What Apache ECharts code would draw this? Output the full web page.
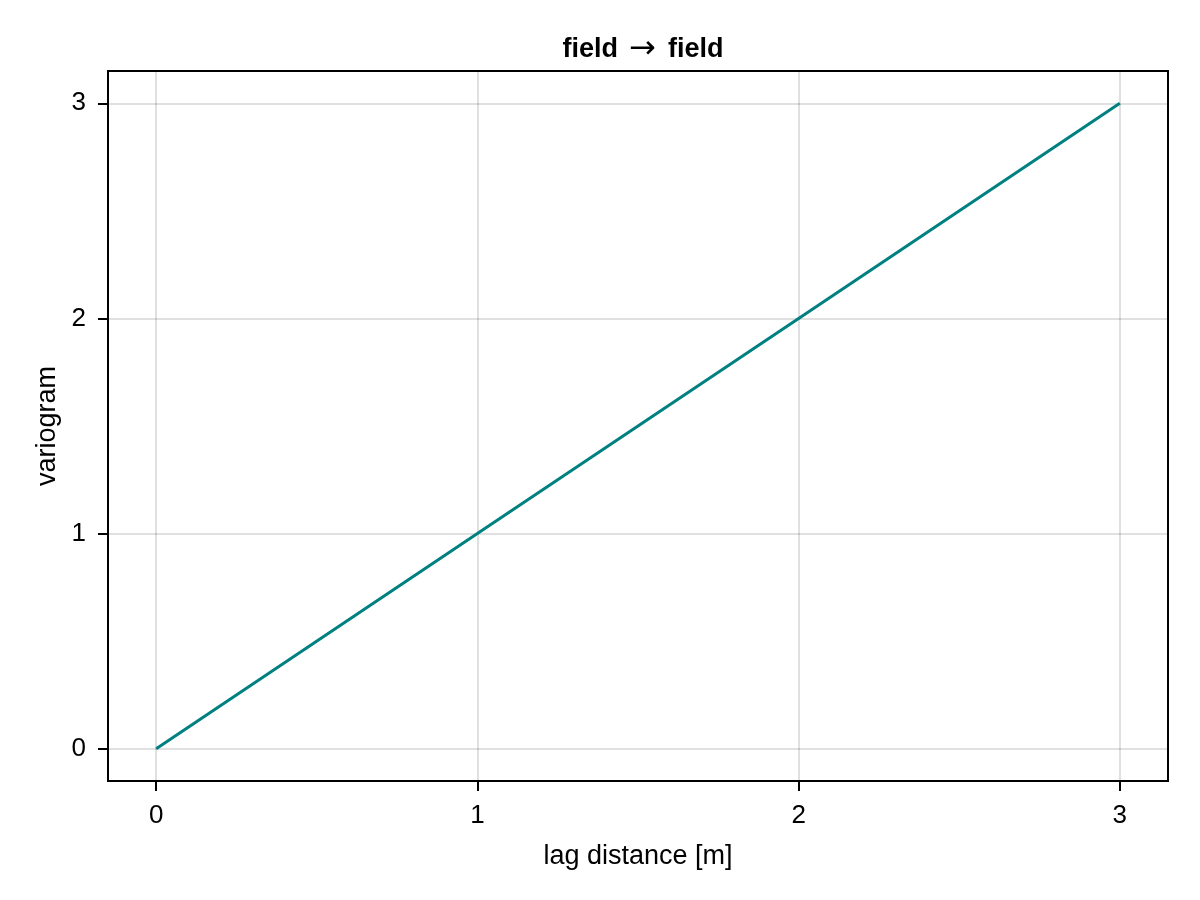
<!DOCTYPE html>
<html>
<head>
<meta charset="utf-8">
<script src="https://cdn.jsdelivr.net/npm/echarts@6/dist/echarts.min.js"></script>
<style>html,body{margin:0;padding:0;background:#fff}#c{width:1200px;height:900px}</style>
</head>
<body>
<div id="c"></div>
<script>
const titleParts = ['field', '\u2192', 'field'];
const xLabel = 'lag distance [m]';
const yLabel = 'variogram';
const lags = [0, 1, 2, 3];
const variogram = [0, 1, 2, 3];
const xTicks = [0, 1, 2, 3];
const yTicks = [0, 1, 2, 3];

const font = '"Liberation Sans", Arial, Helvetica, sans-serif';
const chart = echarts.init(document.getElementById('c'), null, {renderer: 'canvas'});
chart.setOption({
  backgroundColor: '#ffffff',
  animation: false,
  title: {
    text: '{a|' + titleParts[0] + '}{b|' + titleParts[1] + '}{a|' + titleParts[2] + '}',
    left: 638, top: 29, textAlign: 'center',
    textStyle: {
      fontFamily: font, fontWeight: 'bold', fontSize: 27, color: '#000',
      rich: {
        a: {fontFamily: font, fontWeight: 'bold', fontSize: 27, color: '#000'},
        b: {fontFamily: '"DejaVu Sans", sans-serif', fontWeight: 'normal', fontSize: 32, color: '#000', padding: [0, 12, 0, 11]}
      }
    }
  },
  grid: {left: 108, right: 32, top: 71, bottom: 119, show: true, borderColor: '#000', borderWidth: 2, backgroundColor: 'transparent'},
  xAxis: {
    type: 'value', min: -0.15, max: 3.15,
    name: xLabel, nameLocation: 'middle', nameGap: 62,
    nameTextStyle: {fontFamily: font, fontSize: 27, color: '#000'},
    axisLine: {show: true, onZero: false, lineStyle: {color: '#000', width: 2}},
    axisTick: {show: true, inside: false, length: 10, customValues: xTicks, lineStyle: {color: '#000', width: 2}},
    axisLabel: {customValues: xTicks, margin: 22, fontFamily: font, fontSize: 26, color: '#000'},
    splitLine: {show: true, lineStyle: {color: 'rgba(0,0,0,0.12)', width: 2}}
  },
  yAxis: {
    type: 'value', min: -0.15, max: 3.15,
    name: yLabel, nameLocation: 'middle', nameGap: 44, nameRotate: 90,
    nameTextStyle: {fontFamily: font, fontSize: 27, color: '#000'},
    axisLine: {show: true, onZero: false, lineStyle: {color: '#000', width: 2}},
    axisTick: {show: true, inside: false, length: 10, customValues: yTicks, lineStyle: {color: '#000', width: 2}},
    axisLabel: {customValues: yTicks, margin: 22, fontFamily: font, fontSize: 26, color: '#000'},
    splitLine: {show: true, lineStyle: {color: 'rgba(0,0,0,0.12)', width: 2}}
  },
  series: [{
    type: 'line',
    data: lags.map((x, i) => [x, variogram[i]]),
    showSymbol: false,
    lineStyle: {color: '#008080', width: 3},
    itemStyle: {color: '#008080'}
  }]
});
</script>
</body>
</html>
